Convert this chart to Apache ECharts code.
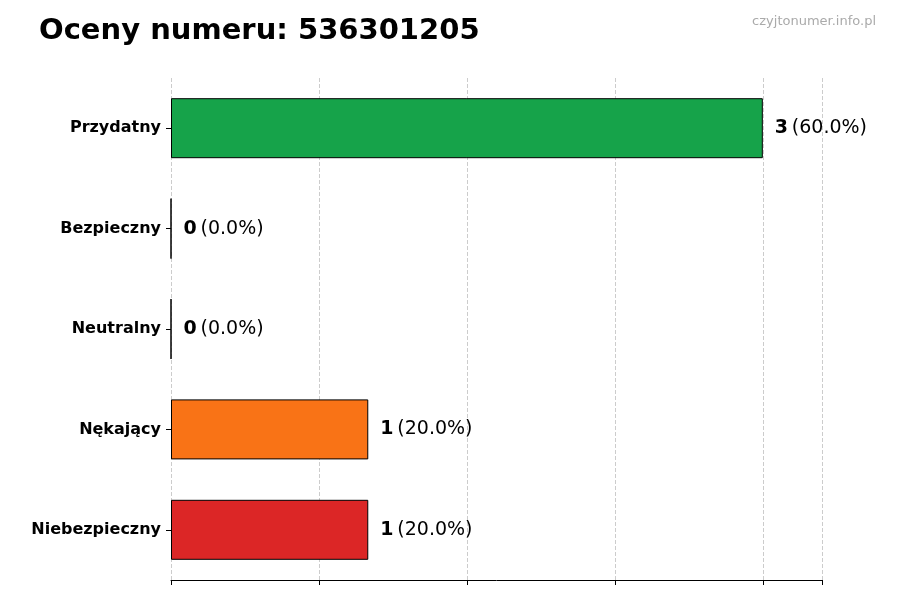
<!DOCTYPE html>
<html><head><meta charset="utf-8">
<script src="https://cdn.jsdelivr.net/npm/echarts@6/dist/echarts.min.js"></script>
<style>html,body{margin:0;padding:0;background:#fff}#c{width:900px;height:600px}</style>
</head><body><div id="c"></div>
<script>
const categories = ["Przydatny","Bezpieczny","Neutralny","Nękający","Niebezpieczny"];
const values = [3,0,0,1,1];
const percents = ["60.0%","0.0%","0.0%","20.0%","20.0%"];
const colors = ["#16a34a","#16a34a","#9ca3af","#f97316","#dc2626"];
const chart = echarts.init(document.getElementById('c'));
chart.setOption({
  animation:false,
  textStyle:{fontFamily:'DejaVu Sans'},
  title:[{text:'Oceny numeru: 536301205',left:34,top:12,textStyle:{fontSize:29,fontWeight:'bold',color:'#000',fontFamily:'DejaVu Sans'}},
         {text:'czyjtonumer.info.pl',right:19,top:10,textStyle:{fontSize:13,fontWeight:'normal',color:'#aaa',fontFamily:'DejaVu Sans'}}],
  grid:{left:171,right:78,top:78,bottom:20},
  xAxis:{type:'value',min:0,max:3.3,interval:0.75,
    axisLine:{show:true,lineStyle:{color:'#000'}},axisTick:{show:true,length:5,lineStyle:{color:'#000'}},
    axisLabel:{show:false},
    splitLine:{show:true,lineStyle:{type:'dashed',color:'#ccc'}}},
  yAxis:{type:'category',data:categories,inverse:true,
    axisLine:{show:false},axisTick:{show:true,length:5,alignWithLabel:true,lineStyle:{color:'#000'}},
    axisLabel:{fontSize:16,fontWeight:'bold',color:'#000',margin:10}},
  series:[{type:'bar',barWidth:60,
    data:values.map((v,i)=>({value:v,itemStyle:{color:colors[i],borderColor:'#000',borderWidth:1}})),
    label:{show:true,position:'right',distance:12,
      formatter:p=>'{b|'+values[p.dataIndex]+'} {n|('+percents[p.dataIndex]+')}',
      rich:{b:{fontSize:19,fontWeight:'bold',color:'#000'},n:{fontSize:19,color:'#000'}}}}]
});
</script></body></html>
